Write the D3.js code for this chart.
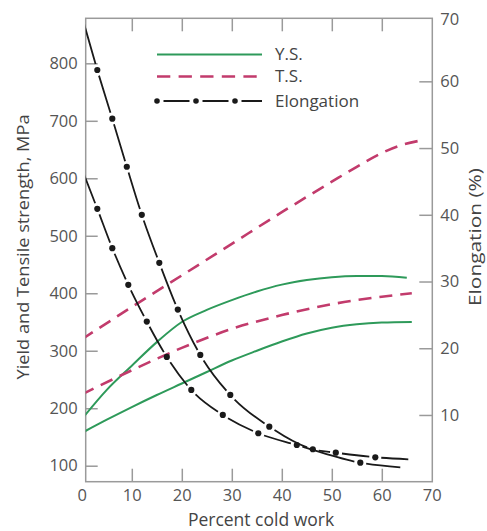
<!DOCTYPE html>
<html>
<head>
<meta charset="utf-8">
<script src="https://cdn.jsdelivr.net/npm/d3@7"></script>
<style>
  body { margin: 0; background: #fff; }
  .tick text { font-family: "Open Sans", sans-serif; font-size: 16.5px; fill: #555; }
  .label { font-family: "Open Sans", sans-serif; fill: #444; }
</style>
</head>
<body>
<div id="body"></div>
<script>
// percent cold work vs. MPa (left axis)
var ysHighX = [0, 5, 10, 15, 20, 25, 30, 35, 40, 45, 50, 55, 60, 65];
var ysHighY = [181, 232, 274, 315, 350, 371, 388, 403, 415, 423, 428, 430, 430, 427];
var ysLowX = [0, 5, 10, 15, 20, 25, 30, 35, 40, 45, 50, 55, 60, 66];
var ysLowY = [157, 180, 202, 223, 243, 263, 283, 300, 316, 330, 340, 346, 349, 350];
var tsHighX = [0, 10, 20, 30, 40, 50, 55, 60, 64, 68];
var tsHighY = [320, 376, 431, 486, 541, 594, 620, 644, 658, 666];
var tsLowX = [0, 10, 20, 30, 40, 50, 60, 66];
var tsLowY = [224, 266, 305, 338, 362, 381, 394, 400];

// percent cold work vs. elongation % (right axis); inner points carry the dots
var elHighX = [0, 3.1, 6.1, 9, 12, 15.5, 19.2, 23.7, 29.7, 37.5, 46.2, 50.8, 58.7, 65.3];
var elHighY = [69.8, 61.7, 54.4, 47.2, 40, 32.8, 25.8, 19, 13, 8.25, 4.86, 4.35, 3.66, 3.36];
var elLowX = [0, 3.1, 6.1, 9.3, 13, 17, 21.9, 28.2, 35.3, 43, 55.7, 63.7];
var elLowY = [46.9, 40.9, 35, 29.5, 24, 18.7, 13.75, 10, 7.26, 5.5, 2.85, 2.16];

var xTicks = [0, 10, 20, 30, 40, 50, 60, 70];
var yTicks = [100, 200, 300, 400, 500, 600, 700, 800];
var y2Ticks = [10, 20, 30, 40, 50, 60, 70];
var legendNames = ["Y.S.", "T.S.", "Elongation"];

var W = 487, H = 531;
var frame = {left: 85.7, right: 432.3, top: 18.3, bottom: 481.7};
var green = "#2e9a5a", pink = "#c23b6c", ink = "#1a1a1a", axisCol = "#9a9a9a";

var x = d3.scaleLinear().domain([0, 70]).range([81.8, 431.8]);
var y = d3.scaleLinear().domain([72.2, 878.3]).range([frame.bottom, frame.top]);
var y2 = d3.scaleLinear().domain([0, 70]).range([frame.bottom, 14.6]);

var svg = d3.select("#body").append("svg")
    .attr("width", W)
    .attr("height", H);

svg.append("defs").append("clipPath")
    .attr("id", "plot")
  .append("rect")
    .attr("x", frame.left).attr("y", frame.top)
    .attr("width", frame.right - frame.left)
    .attr("height", frame.bottom - frame.top);

// axes, all ticks pointing inward
var tickLen = 13;
svg.append("g")
    .attr("transform", "translate(0," + frame.bottom + ")")
    .call(d3.axisBottom(x).tickValues(xTicks).tickSizeInner(-tickLen).tickSizeOuter(0).tickPadding(8))
    .call(function(g) {
      g.select(".domain").remove();
      g.selectAll(".tick").filter(function(d) { return d == 0 || d == 70; }).select("line").remove();
    });

svg.append("g")
    .attr("transform", "translate(0," + frame.top + ")")
    .call(d3.axisTop(x).tickValues(xTicks.slice(1, -1)).tickSizeInner(-tickLen).tickSizeOuter(0).tickFormat(""))
    .call(function(g) { g.select(".domain").remove(); });

svg.append("g")
    .attr("transform", "translate(" + frame.left + ",0)")
    .call(d3.axisLeft(y).tickValues(yTicks).tickSizeInner(-12).tickSizeOuter(0).tickPadding(8))
    .call(function(g) { g.select(".domain").remove(); });

svg.append("g")
    .attr("transform", "translate(" + frame.right + ",0)")
    .call(d3.axisRight(y2).tickValues(y2Ticks).tickSizeInner(-tickLen).tickSizeOuter(0).tickPadding(8))
    .call(function(g) {
      g.select(".domain").remove();
      var top = g.selectAll(".tick").filter(function(d) { return d == 70; });
      top.select("line").remove();
      top.attr("transform", "translate(0," + (frame.top + 1) + ")");
    });

svg.selectAll(".tick line").attr("stroke", axisCol).attr("stroke-width", 1.5);

svg.append("rect")
    .attr("x", frame.left).attr("y", frame.top)
    .attr("width", frame.right - frame.left)
    .attr("height", frame.bottom - frame.top)
    .attr("fill", "none")
    .attr("stroke", axisCol)
    .attr("stroke-width", 1.5);

// axis titles
svg.append("text")
    .attr("class", "label")
    .attr("transform", "translate(29,247) rotate(-90)")
    .attr("text-anchor", "middle")
    .attr("font-size", 17)
    .attr("textLength", 265)
    .attr("lengthAdjust", "spacingAndGlyphs")
    .text("Yield and Tensile strength, MPa");

svg.append("text")
    .attr("class", "label")
    .attr("transform", "translate(481,237) rotate(-90)")
    .attr("text-anchor", "middle")
    .attr("font-size", 17)
    .attr("textLength", 138)
    .attr("lengthAdjust", "spacingAndGlyphs")
    .text("Elongation (%)");

svg.append("text")
    .attr("class", "label")
    .attr("x", 261).attr("y", 526)
    .attr("text-anchor", "middle")
    .attr("font-size", 17.5)
    .text("Percent cold work");

// curves
var plot = svg.append("g").attr("clip-path", "url(#plot)");

function pairs(xs, ys) {
  return xs.map(function(v, i) { return [v, ys[i]]; });
}

var lineL = d3.line()
    .x(function(d) { return x(d[0]); })
    .y(function(d) { return y(d[1]); })
    .curve(d3.curveMonotoneX);

var lineR = d3.line()
    .x(function(d) { return x(d[0]); })
    .y(function(d) { return y2(d[1]); })
    .curve(d3.curveMonotoneX);

[[ysHighX, ysHighY], [ysLowX, ysLowY]].forEach(function(s) {
  plot.append("path")
      .attr("d", lineL(pairs(s[0], s[1])))
      .attr("fill", "none")
      .attr("stroke", green)
      .attr("stroke-width", 2);
});

[[tsHighX, tsHighY], [tsLowX, tsLowY]].forEach(function(s) {
  plot.append("path")
      .attr("d", lineL(pairs(s[0], s[1])))
      .attr("fill", "none")
      .attr("stroke", pink)
      .attr("stroke-width", 2.6)
      .attr("stroke-dasharray", "13,8");
});

// long dash between dots, small gap around each dot
function dashAround(node, pts, gap) {
  var total = node.getTotalLength(), samples = [];
  for (var s = 0; s <= total; s += 0.5) {
    var p = node.getPointAtLength(s);
    samples.push([s, p.x, p.y]);
  }
  var marks = pts.map(function(p) {
    var best = samples[0], bd = Infinity;
    samples.forEach(function(q) {
      var dd = (q[1] - p[0]) * (q[1] - p[0]) + (q[2] - p[1]) * (q[2] - p[1]);
      if (dd < bd) { bd = dd; best = q; }
    });
    return best[0];
  }).sort(function(a, b) { return a - b; });
  var arr = [], prev = 0;
  marks.forEach(function(m) {
    arr.push(Math.max(m - gap - prev, 0), 2 * gap);
    prev = m + gap;
  });
  arr.push(total - prev + 2, 0);
  return arr.join(",");
}

[[elHighX, elHighY], [elLowX, elLowY]].forEach(function(s) {
  var data = pairs(s[0], s[1]);
  var dots = data.slice(1, -1);
  var path = plot.append("path")
      .attr("d", lineR(data))
      .attr("fill", "none")
      .attr("stroke", ink)
      .attr("stroke-width", 1.8);
  path.attr("stroke-dasharray", dashAround(path.node(), dots.map(function(d) { return [x(d[0]), y2(d[1])]; }), 6));

  plot.selectAll(null)
      .data(dots)
    .enter().append("circle")
      .attr("cx", function(d) { return x(d[0]); })
      .attr("cy", function(d) { return y2(d[1]); })
      .attr("r", 3.1)
      .attr("fill", ink);
});

// legend
var legend = svg.append("g");
var lx0 = 157, lx1 = 262, ly = [54.5, 76.5, 101];

legend.append("line")
    .attr("x1", lx0).attr("x2", lx1).attr("y1", ly[0]).attr("y2", ly[0])
    .attr("stroke", green).attr("stroke-width", 2);

legend.append("line")
    .attr("x1", lx0).attr("x2", lx1).attr("y1", ly[1]).attr("y2", ly[1])
    .attr("stroke", pink).attr("stroke-width", 2.6)
    .attr("stroke-dasharray", "13.3,8.3");

legend.append("line")
    .attr("x1", lx0).attr("x2", lx1).attr("y1", ly[2]).attr("y2", ly[2])
    .attr("stroke", ink).attr("stroke-width", 1.8)
    .attr("stroke-dasharray", "0,6.5,26,6.5");

legend.append("line")
    .attr("x1", lx0).attr("x2", lx1 - 20).attr("y1", ly[2]).attr("y2", ly[2])
    .attr("stroke", ink).attr("stroke-width", 5.6)
    .attr("stroke-linecap", "round")
    .attr("stroke-dasharray", "0,39");

legend.selectAll("text")
    .data(legendNames)
  .enter().append("text")
    .attr("class", "label")
    .attr("x", 275)
    .attr("y", function(d, i) { return ly[i]; })
    .attr("dy", "0.35em")
    .attr("font-size", 17)
    .attr("fill", "#333")
    .text(function(d) { return d; });
</script>
</body>
</html>
